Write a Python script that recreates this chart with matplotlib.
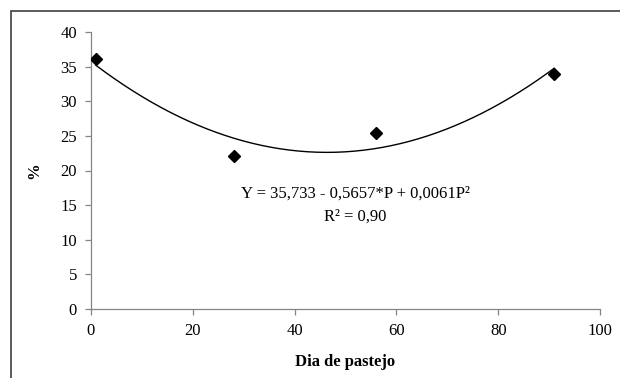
import numpy as np
import matplotlib.pyplot as plt
from matplotlib.patches import Rectangle

plt.rcParams["font.family"] = ["Liberation Serif", "DejaVu Serif"]

# observed points
dias = [1, 28, 56, 91]
pct = [36.1, 22.1, 25.4, 34.0]

# quadratic trend line coefficients (as printed on the chart)
coef_a, coef_b, coef_c = 35.733, -0.5657, 0.0061
eq_text = "Y = 35,733 - 0,5657*P + 0,0061P²"
r2_text = "R² = 0,90"

x_ticks = [0, 20, 40, 60, 80, 100]
y_ticks = [0, 5, 10, 15, 20, 25, 30, 35, 40]

fs = 12

fig = plt.figure(figsize=(6.2, 3.78), dpi=100)
ax = fig.add_axes([91 / 620, 1 - 309 / 378, 509 / 620, 277 / 378])

# outer chart border (only left/top visible in the crop)
fig.patches.append(Rectangle((11 / 620, -0.1), 1.2, 1 - 11 / 378 + 0.1,
                             transform=fig.transFigure, fill=False,
                             edgecolor="#404040", linewidth=1.2))

p = np.linspace(dias[0], dias[-1], 200)
ax.plot(p, coef_a + coef_b * p + coef_c * p ** 2, color="black", linewidth=1.0, zorder=2)
ax.plot(dias, pct, linestyle="none", marker="D", markersize=6.5,
        color="black", zorder=3)

ax.text(52, 16.6, eq_text, ha="center", va="center", fontsize=fs)
ax.text(52, 13.4, r2_text, ha="center", va="center", fontsize=fs)

ax.set_xlim(0, 100)
ax.set_ylim(0, 40)
ax.set_xticks(x_ticks)
ax.set_yticks(y_ticks)
for s in ["top", "right"]:
    ax.spines[s].set_visible(False)
for s in ["left", "bottom"]:
    ax.spines[s].set_color("#868686")
    ax.spines[s].set_linewidth(0.9)
ax.tick_params(direction="out", length=4, width=0.9, color="#868686",
               labelsize=fs)
ax.tick_params(axis="x", pad=6)
ax.tick_params(axis="y", pad=6)

ax.set_xlabel("Dia de pastejo", fontweight="bold", fontsize=fs, labelpad=11)
ax.set_ylabel("%", fontweight="bold", fontsize=fs, labelpad=13)

fig.savefig("out.png", dpi=100)
